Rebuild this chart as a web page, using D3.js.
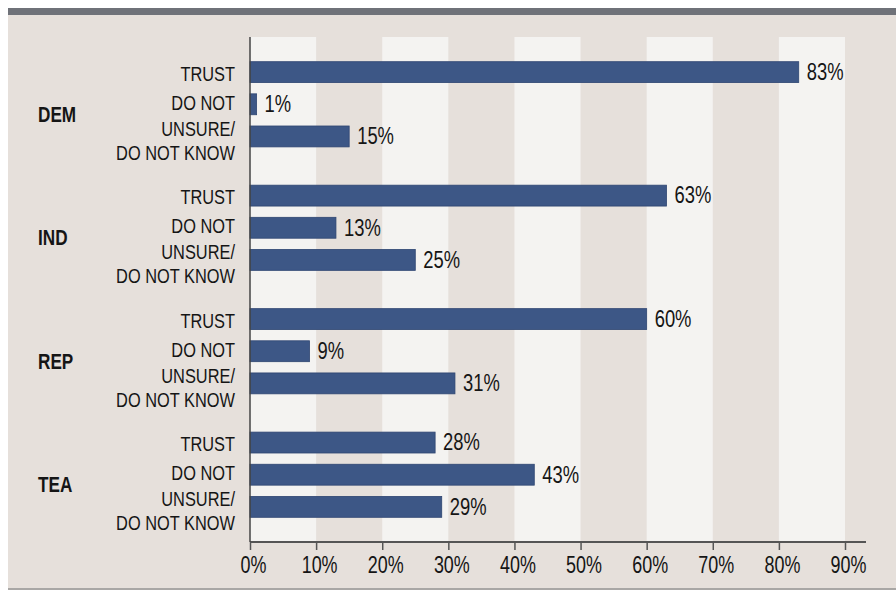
<!DOCTYPE html>
<html>
<head>
<meta charset="utf-8">
<script src="https://cdn.jsdelivr.net/npm/d3@7"></script>
<style>
  body { margin: 0; background: #fff; }
  text { font-family: "Liberation Sans", Arial, sans-serif; fill: #151515; }
</style>
</head>
<body>
<div id="wrapper"></div>
<script>
  // data
  const groups = ["DEM", "IND", "REP", "TEA"]
  const answers = ["TRUST", "DO NOT", "UNSURE/\nDO NOT KNOW"]
  const trustValues = [83, 63, 60, 28]
  const doNotValues = [1, 13, 9, 43]
  const unsureValues = [15, 25, 31, 29]
  const tickValues = [0, 10, 20, 30, 40, 50, 60, 70, 80, 90]

  const dataset = []
  groups.forEach((g, i) => {
    dataset.push({ group: g, answer: answers[0], value: trustValues[i] })
    dataset.push({ group: g, answer: answers[1], value: doNotValues[i] })
    dataset.push({ group: g, answer: answers[2], value: unsureValues[i] })
  })

  // condensed look: squeeze glyphs horizontally
  const place = (x, y, s) => `translate(${x}, ${y}) scale(${s}, 1)`

  // dimensions
  const dimensions = {
    width: 896,
    height: 591,
    margin: { top: 37, right: 30, bottom: 49, left: 250 },
  }
  dimensions.boundedWidth = dimensions.width - dimensions.margin.left - dimensions.margin.right
  dimensions.boundedHeight = dimensions.height - dimensions.margin.top - dimensions.margin.bottom

  const wrapper = d3.select("#wrapper")
    .append("svg")
      .attr("width", dimensions.width)
      .attr("height", dimensions.height)

  // frame
  wrapper.append("rect")
    .attr("x", 8).attr("y", 8)
    .attr("width", dimensions.width - 8).attr("height", 582)
    .attr("fill", "#e6e0db")
  wrapper.append("rect")
    .attr("x", 8).attr("y", 8)
    .attr("width", dimensions.width - 8).attr("height", 7)
    .attr("fill", "#6f7279")
  wrapper.append("rect")
    .attr("x", 8).attr("y", 588)
    .attr("width", dimensions.width - 8).attr("height", 2)
    .attr("fill", "#a9a7a5")

  const bounds = wrapper.append("g")
    .attr("transform", `translate(${dimensions.margin.left}, ${dimensions.margin.top})`)

  // scales
  const xScale = d3.scaleLinear()
    .domain([0, 90])
    .range([0, 595])

  const groupScale = d3.scaleBand()
    .domain(groups)
    .range([0, dimensions.boundedHeight])
    .paddingInner(0.31)
    .paddingOuter(0.2)

  const answerScale = d3.scaleBand()
    .domain(answers)
    .range([0, groupScale.bandwidth()])
    .paddingInner(0.35)

  const yOf = d => groupScale(d.group) + answerScale(d.answer)
  const midOf = d => yOf(d) + answerScale.bandwidth() / 2

  // background bands
  bounds.append("g")
    .selectAll("rect")
    .data(tickValues.filter((d, i) => i % 2 == 0))
    .join("rect")
      .attr("x", d => xScale(d))
      .attr("y", 0)
      .attr("width", d => xScale(d + 10) - xScale(d))
      .attr("height", dimensions.boundedHeight)
      .attr("fill", "#f4f3f1")

  // bars
  bounds.append("g")
    .selectAll("rect")
    .data(dataset)
    .join("rect")
      .attr("x", xScale(0))
      .attr("y", yOf)
      .attr("width", d => xScale(d.value) - xScale(0))
      .attr("height", answerScale.bandwidth())
      .attr("fill", "#3d5786")
      .attr("stroke", "#2f4672")
      .attr("stroke-width", 0.8)

  // value labels
  bounds.append("g")
    .selectAll("text")
    .data(dataset)
    .join("text")
      .attr("transform", d => place(xScale(d.value) + 8, midOf(d), 0.8))
      .attr("dy", "0.34em")
      .style("font-size", "23px")
      .text(d => d.value + "%")

  // answer labels (set a little tighter than the bars)
  const firstLineShift = ["0.42em", "0.26em", "-0.04em"]
  const answerLabels = bounds.append("g")
    .selectAll("text")
    .data(dataset)
    .join("text")
      .attr("transform", d => place(-15, midOf(d), 0.78))
      .attr("text-anchor", "end")
      .style("font-size", "21px")

  answerLabels.selectAll("tspan")
    .data(d => d.answer.split("\n").map((l, i) => ({ text: l, i, k: answers.indexOf(d.answer) })))
    .join("tspan")
      .attr("x", 0)
      .attr("dy", d => d.i > 0 ? "1.15em" : firstLineShift[d.k])
      .text(d => d.text)

  // group labels
  bounds.append("g")
    .selectAll("text")
    .data(groups)
    .join("text")
      .attr("transform", d => place(38 - dimensions.margin.left, groupScale(d) + groupScale.bandwidth() / 2 + 9.5, 0.78))
      .attr("dy", "0.36em")
      .style("font-size", "22px")
      .style("font-weight", "bold")
      .text(d => d)

  // axes
  const xAxis = bounds.append("g")
    .attr("transform", `translate(0, ${dimensions.boundedHeight})`)

  xAxis.append("line")
    .attr("x1", 0)
    .attr("x2", 616)
    .attr("stroke", "#555")
    .attr("stroke-width", 2)

  const xAxisGenerator = d3.axisBottom(xScale)
    .tickValues(tickValues)
    .tickSize(8)
    .tickSizeOuter(0)
    .tickFormat(d => d + "%")

  xAxis.append("g").call(xAxisGenerator)
    .call(g => g.select(".domain").remove())
    .call(g => g.selectAll(".tick line").attr("stroke", "#555").attr("stroke-width", 1.5))
    .call(g => g.selectAll(".tick text")
      .attr("y", null)
      .attr("dy", null)
      .attr("transform", place(3, 31, 0.78))
      .style("font-size", "23px")
      .style("font-family", null)
      .attr("fill", "#151515"))

  bounds.append("line")
    .attr("x1", 0).attr("x2", 0)
    .attr("y1", 0).attr("y2", dimensions.boundedHeight)
    .attr("stroke", "#444")
    .attr("stroke-width", 1.5)
</script>
</body>
</html>
